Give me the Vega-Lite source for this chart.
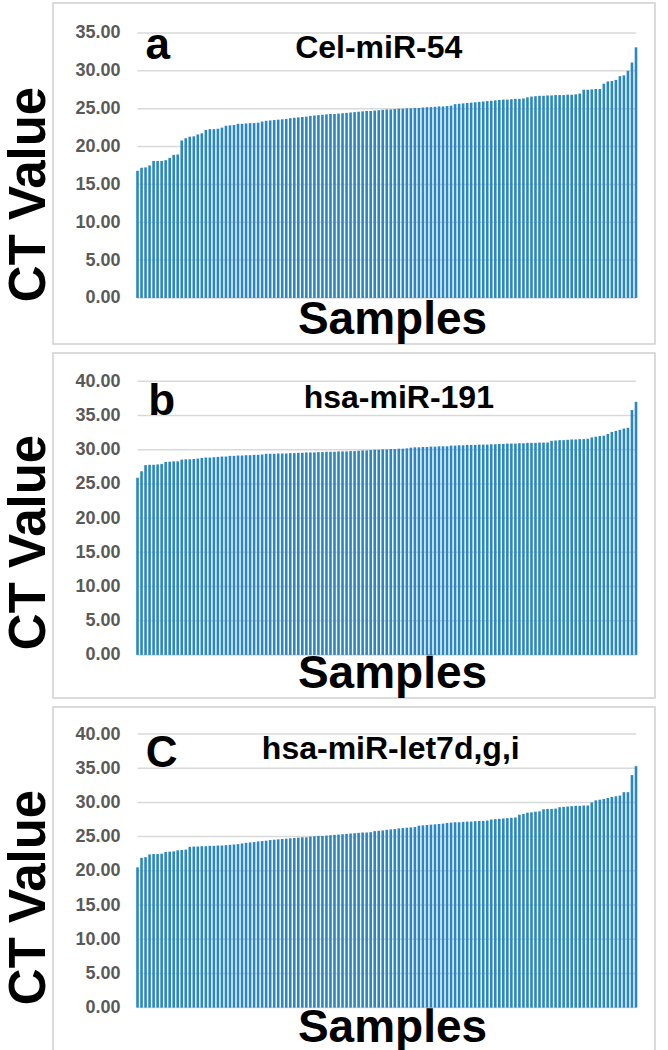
{
  "$schema": "https://vega.github.io/schema/vega-lite/v6.json",
  "padding": {"left": 2, "top": 2, "right": 0, "bottom": 0},
  "background": "white",
  "config": {
    "view": {"stroke": "#d0d0d0", "strokeWidth": 1.5},
    "font": "Liberation Sans",
    "concat": {"spacing": 7}
  },
  "datasets": {
    "a": [
      {"s":1,"ct":16.8},{"s":2,"ct":17.2},{"s":3,"ct":17.25},{"s":4,"ct":17.5},{"s":5,"ct":18.1},{"s":6,"ct":18.1},{"s":7,"ct":18.1},{"s":8,"ct":18.2},{"s":9,"ct":18.5},{"s":10,"ct":18.9},
      {"s":11,"ct":18.95},{"s":12,"ct":20.8},{"s":13,"ct":21.1},{"s":14,"ct":21.3},{"s":15,"ct":21.35},{"s":16,"ct":21.6},{"s":17,"ct":21.75},{"s":18,"ct":22.2},{"s":19,"ct":22.3},{"s":20,"ct":22.3},
      {"s":21,"ct":22.35},{"s":22,"ct":22.5},{"s":23,"ct":22.75},{"s":24,"ct":22.8},{"s":25,"ct":22.85},{"s":26,"ct":23.0},{"s":27,"ct":23.0},{"s":28,"ct":23.05},{"s":29,"ct":23.1},{"s":30,"ct":23.1},
      {"s":31,"ct":23.15},{"s":32,"ct":23.3},{"s":33,"ct":23.4},{"s":34,"ct":23.45},{"s":35,"ct":23.5},{"s":36,"ct":23.55},{"s":37,"ct":23.6},{"s":38,"ct":23.65},{"s":39,"ct":23.75},{"s":40,"ct":23.8},
      {"s":41,"ct":23.85},{"s":42,"ct":23.9},{"s":43,"ct":23.95},{"s":44,"ct":24.05},{"s":45,"ct":24.1},{"s":46,"ct":24.15},{"s":47,"ct":24.2},{"s":48,"ct":24.25},{"s":49,"ct":24.3},{"s":50,"ct":24.3},
      {"s":51,"ct":24.35},{"s":52,"ct":24.4},{"s":53,"ct":24.45},{"s":54,"ct":24.5},{"s":55,"ct":24.55},{"s":56,"ct":24.6},{"s":57,"ct":24.65},{"s":58,"ct":24.7},{"s":59,"ct":24.7},{"s":60,"ct":24.75},
      {"s":61,"ct":24.8},{"s":62,"ct":24.85},{"s":63,"ct":24.9},{"s":64,"ct":24.9},{"s":65,"ct":24.95},{"s":66,"ct":25.0},{"s":67,"ct":25.0},{"s":68,"ct":25.05},{"s":69,"ct":25.05},{"s":70,"ct":25.1},
      {"s":71,"ct":25.1},{"s":72,"ct":25.15},{"s":73,"ct":25.2},{"s":74,"ct":25.2},{"s":75,"ct":25.25},{"s":76,"ct":25.3},{"s":77,"ct":25.3},{"s":78,"ct":25.35},{"s":79,"ct":25.4},{"s":80,"ct":25.6},
      {"s":81,"ct":25.65},{"s":82,"ct":25.7},{"s":83,"ct":25.75},{"s":84,"ct":25.8},{"s":85,"ct":25.85},{"s":86,"ct":25.9},{"s":87,"ct":25.95},{"s":88,"ct":26.0},{"s":89,"ct":26.05},{"s":90,"ct":26.1},
      {"s":91,"ct":26.15},{"s":92,"ct":26.2},{"s":93,"ct":26.2},{"s":94,"ct":26.25},{"s":95,"ct":26.3},{"s":96,"ct":26.3},{"s":97,"ct":26.35},{"s":98,"ct":26.5},{"s":99,"ct":26.6},{"s":100,"ct":26.65},
      {"s":101,"ct":26.7},{"s":102,"ct":26.7},{"s":103,"ct":26.75},{"s":104,"ct":26.75},{"s":105,"ct":26.8},{"s":106,"ct":26.8},{"s":107,"ct":26.8},{"s":108,"ct":26.85},{"s":109,"ct":26.85},{"s":110,"ct":26.9},
      {"s":111,"ct":27.0},{"s":112,"ct":27.5},{"s":113,"ct":27.5},{"s":114,"ct":27.55},{"s":115,"ct":27.6},{"s":116,"ct":27.6},{"s":117,"ct":28.3},{"s":118,"ct":28.6},{"s":119,"ct":28.65},{"s":120,"ct":28.8},
      {"s":121,"ct":29.3},{"s":122,"ct":29.4},{"s":123,"ct":30.0},{"s":124,"ct":31.1},{"s":125,"ct":33.1}
    ],
    "b": [
      {"s":1,"ct":25.9},{"s":2,"ct":26.85},{"s":3,"ct":27.75},{"s":4,"ct":27.8},{"s":5,"ct":27.8},{"s":6,"ct":27.85},{"s":7,"ct":27.9},{"s":8,"ct":28.2},{"s":9,"ct":28.25},{"s":10,"ct":28.3},
      {"s":11,"ct":28.3},{"s":12,"ct":28.55},{"s":13,"ct":28.6},{"s":14,"ct":28.6},{"s":15,"ct":28.65},{"s":16,"ct":28.7},{"s":17,"ct":28.8},{"s":18,"ct":28.85},{"s":19,"ct":28.85},{"s":20,"ct":28.9},
      {"s":21,"ct":28.95},{"s":22,"ct":29.0},{"s":23,"ct":29.0},{"s":24,"ct":29.1},{"s":25,"ct":29.1},{"s":26,"ct":29.15},{"s":27,"ct":29.15},{"s":28,"ct":29.2},{"s":29,"ct":29.2},{"s":30,"ct":29.25},
      {"s":31,"ct":29.25},{"s":32,"ct":29.3},{"s":33,"ct":29.4},{"s":34,"ct":29.4},{"s":35,"ct":29.4},{"s":36,"ct":29.45},{"s":37,"ct":29.45},{"s":38,"ct":29.45},{"s":39,"ct":29.5},{"s":40,"ct":29.5},
      {"s":41,"ct":29.55},{"s":42,"ct":29.55},{"s":43,"ct":29.6},{"s":44,"ct":29.6},{"s":45,"ct":29.6},{"s":46,"ct":29.65},{"s":47,"ct":29.65},{"s":48,"ct":29.7},{"s":49,"ct":29.7},{"s":50,"ct":29.7},
      {"s":51,"ct":29.75},{"s":52,"ct":29.75},{"s":53,"ct":29.75},{"s":54,"ct":29.8},{"s":55,"ct":29.8},{"s":56,"ct":29.85},{"s":57,"ct":29.9},{"s":58,"ct":29.9},{"s":59,"ct":29.95},{"s":60,"ct":30.0},
      {"s":61,"ct":30.0},{"s":62,"ct":30.05},{"s":63,"ct":30.05},{"s":64,"ct":30.1},{"s":65,"ct":30.1},{"s":66,"ct":30.15},{"s":67,"ct":30.15},{"s":68,"ct":30.2},{"s":69,"ct":30.3},{"s":70,"ct":30.35},
      {"s":71,"ct":30.35},{"s":72,"ct":30.4},{"s":73,"ct":30.4},{"s":74,"ct":30.45},{"s":75,"ct":30.45},{"s":76,"ct":30.5},{"s":77,"ct":30.5},{"s":78,"ct":30.5},{"s":79,"ct":30.6},{"s":80,"ct":30.6},
      {"s":81,"ct":30.65},{"s":82,"ct":30.65},{"s":83,"ct":30.7},{"s":84,"ct":30.7},{"s":85,"ct":30.7},{"s":86,"ct":30.75},{"s":87,"ct":30.75},{"s":88,"ct":30.75},{"s":89,"ct":30.8},{"s":90,"ct":30.8},
      {"s":91,"ct":30.85},{"s":92,"ct":30.85},{"s":93,"ct":30.9},{"s":94,"ct":30.9},{"s":95,"ct":30.9},{"s":96,"ct":30.95},{"s":97,"ct":30.95},{"s":98,"ct":31.0},{"s":99,"ct":31.0},{"s":100,"ct":31.0},
      {"s":101,"ct":31.05},{"s":102,"ct":31.05},{"s":103,"ct":31.05},{"s":104,"ct":31.3},{"s":105,"ct":31.35},{"s":106,"ct":31.4},{"s":107,"ct":31.4},{"s":108,"ct":31.45},{"s":109,"ct":31.5},{"s":110,"ct":31.5},
      {"s":111,"ct":31.55},{"s":112,"ct":31.55},{"s":113,"ct":31.6},{"s":114,"ct":31.8},{"s":115,"ct":31.9},{"s":116,"ct":32.0},{"s":117,"ct":32.05},{"s":118,"ct":32.3},{"s":119,"ct":32.6},{"s":120,"ct":32.75},
      {"s":121,"ct":32.9},{"s":122,"ct":33.1},{"s":123,"ct":33.2},{"s":124,"ct":35.8},{"s":125,"ct":37.0}
    ],
    "c": [
      {"s":1,"ct":20.5},{"s":2,"ct":21.9},{"s":3,"ct":22.0},{"s":4,"ct":22.4},{"s":5,"ct":22.45},{"s":6,"ct":22.45},{"s":7,"ct":22.5},{"s":8,"ct":22.75},{"s":9,"ct":22.8},{"s":10,"ct":22.85},
      {"s":11,"ct":23.0},{"s":12,"ct":23.05},{"s":13,"ct":23.1},{"s":14,"ct":23.5},{"s":15,"ct":23.55},{"s":16,"ct":23.55},{"s":17,"ct":23.6},{"s":18,"ct":23.6},{"s":19,"ct":23.65},{"s":20,"ct":23.65},
      {"s":21,"ct":23.7},{"s":22,"ct":23.7},{"s":23,"ct":23.75},{"s":24,"ct":23.8},{"s":25,"ct":23.85},{"s":26,"ct":23.9},{"s":27,"ct":24.0},{"s":28,"ct":24.1},{"s":29,"ct":24.15},{"s":30,"ct":24.2},
      {"s":31,"ct":24.3},{"s":32,"ct":24.35},{"s":33,"ct":24.4},{"s":34,"ct":24.5},{"s":35,"ct":24.55},{"s":36,"ct":24.6},{"s":37,"ct":24.65},{"s":38,"ct":24.7},{"s":39,"ct":24.75},{"s":40,"ct":24.8},
      {"s":41,"ct":24.85},{"s":42,"ct":24.9},{"s":43,"ct":24.9},{"s":44,"ct":25.0},{"s":45,"ct":25.05},{"s":46,"ct":25.1},{"s":47,"ct":25.1},{"s":48,"ct":25.15},{"s":49,"ct":25.2},{"s":50,"ct":25.25},
      {"s":51,"ct":25.3},{"s":52,"ct":25.35},{"s":53,"ct":25.4},{"s":54,"ct":25.45},{"s":55,"ct":25.5},{"s":56,"ct":25.55},{"s":57,"ct":25.6},{"s":58,"ct":25.6},{"s":59,"ct":25.65},{"s":60,"ct":25.8},
      {"s":61,"ct":25.85},{"s":62,"ct":25.9},{"s":63,"ct":26.0},{"s":64,"ct":26.05},{"s":65,"ct":26.1},{"s":66,"ct":26.2},{"s":67,"ct":26.25},{"s":68,"ct":26.3},{"s":69,"ct":26.35},{"s":70,"ct":26.4},
      {"s":71,"ct":26.6},{"s":72,"ct":26.65},{"s":73,"ct":26.7},{"s":74,"ct":26.75},{"s":75,"ct":26.8},{"s":76,"ct":26.85},{"s":77,"ct":26.9},{"s":78,"ct":27.0},{"s":79,"ct":27.05},{"s":80,"ct":27.1},
      {"s":81,"ct":27.1},{"s":82,"ct":27.15},{"s":83,"ct":27.2},{"s":84,"ct":27.2},{"s":85,"ct":27.25},{"s":86,"ct":27.3},{"s":87,"ct":27.3},{"s":88,"ct":27.35},{"s":89,"ct":27.5},{"s":90,"ct":27.55},
      {"s":91,"ct":27.6},{"s":92,"ct":27.65},{"s":93,"ct":27.7},{"s":94,"ct":27.75},{"s":95,"ct":27.8},{"s":96,"ct":28.2},{"s":97,"ct":28.3},{"s":98,"ct":28.5},{"s":99,"ct":28.55},{"s":100,"ct":28.65},
      {"s":101,"ct":28.7},{"s":102,"ct":29.0},{"s":103,"ct":29.05},{"s":104,"ct":29.05},{"s":105,"ct":29.1},{"s":106,"ct":29.3},{"s":107,"ct":29.35},{"s":108,"ct":29.4},{"s":109,"ct":29.45},{"s":110,"ct":29.5},
      {"s":111,"ct":29.5},{"s":112,"ct":29.55},{"s":113,"ct":29.55},{"s":114,"ct":30.0},{"s":115,"ct":30.3},{"s":116,"ct":30.4},{"s":117,"ct":30.5},{"s":118,"ct":30.65},{"s":119,"ct":30.8},{"s":120,"ct":30.9},
      {"s":121,"ct":31.0},{"s":122,"ct":31.5},{"s":123,"ct":31.5},{"s":124,"ct":34.0},{"s":125,"ct":35.3}
    ],
    "grid35": [{"ct":0},{"ct":5},{"ct":10},{"ct":15},{"ct":20},{"ct":25},{"ct":30},{"ct":35}],
    "grid40": [{"ct":0},{"ct":5},{"ct":10},{"ct":15},{"ct":20},{"ct":25},{"ct":30},{"ct":35},{"ct":40}]
  },
  "vconcat": [
    {
      "width": 602, "height": 341,
      "data": {"name": "a"},
      "encoding": {
        "x": {"field": "s", "type": "ordinal",
          "scale": {"type": "band", "paddingInner": 0.35, "paddingOuter": 0.2, "range": [82.4, 585.1]},
          "axis": {"title": "Samples", "labels": false, "ticks": false, "domain": false, "grid": false,
            "titleFont": "Liberation Sans", "titleFontSize": 46, "titleFontWeight": "bold", "titleColor": "#000000",
            "titleX": 339, "titleY": -11, "titleBaseline": "alphabetic", "titleAlign": "center"}},
        "y": {"field": "ct", "type": "quantitative",
          "scale": {"domain": [-6.08, 38.96], "nice": false, "zero": false},
          "axis": {"title": "CT Value", "values": [0,5,10,15,20,25,30,35], "format": ".2f", "grid": false, "domain": false, "ticks": false,
            "offset": -75, "labelPadding": 8, "labelFont": "Liberation Sans", "labelFontWeight": "bold", "labelFontSize": 18, "labelColor": "#595959",
            "titleFont": "Liberation Sans", "titleFontWeight": "bold", "titleFontSize": 51, "titleColor": "#000000",
            "titleX": -73, "titleY": 191, "titleAngle": -90, "titleBaseline": "bottom", "titleAlign": "center"}}
      },
      "layer": [
        {"data": {"name": "grid35"}, "mark": {"type": "rule", "color": "#d9d9d9", "strokeWidth": 1.5},
          "encoding": {"x": {"datum": 1, "type": "ordinal"}, "x2": {"datum": 125}}},
        {"mark": {"type": "bar", "color": "#2b87c3"}},
        {"transform": [{"filter": "datum.s == 6"}],
          "mark": {"type": "text", "font": "Liberation Sans", "fontWeight": "bold", "fontSize": 44, "align": "center", "baseline": "alphabetic", "color": "#000000"},
          "encoding": {"y": {"datum": 31.6, "type": "quantitative"}, "text": {"value": "a"}}},
        {"transform": [{"filter": "datum.s == 61"}],
          "mark": {"type": "text", "font": "Liberation Sans", "fontWeight": "bold", "fontSize": 32, "align": "center", "baseline": "alphabetic", "color": "#000000"},
          "encoding": {"y": {"datum": 31.7, "type": "quantitative"}, "text": {"value": "Cel-miR-54"}}}
      ]
    },
    {
      "width": 602, "height": 345,
      "data": {"name": "b"},
      "encoding": {
        "x": {"field": "s", "type": "ordinal",
          "scale": {"type": "band", "paddingInner": 0.35, "paddingOuter": 0.2, "range": [82.4, 585.1]},
          "axis": {"title": "Samples", "labels": false, "ticks": false, "domain": false, "grid": false,
            "titleFont": "Liberation Sans", "titleFontSize": 46, "titleFontWeight": "bold", "titleColor": "#000000",
            "titleX": 339, "titleY": -11, "titleBaseline": "alphabetic", "titleAlign": "center"}},
        "y": {"field": "ct", "type": "quantitative",
          "scale": {"domain": [-6.3, 44.14], "nice": false, "zero": false},
          "axis": {"title": "CT Value", "values": [0,5,10,15,20,25,30,35,40], "format": ".2f", "grid": false, "domain": false, "ticks": false,
            "offset": -75, "labelPadding": 8, "labelFont": "Liberation Sans", "labelFontWeight": "bold", "labelFontSize": 18, "labelColor": "#595959",
            "titleFont": "Liberation Sans", "titleFontWeight": "bold", "titleFontSize": 51, "titleColor": "#000000",
            "titleX": -73, "titleY": 189, "titleAngle": -90, "titleBaseline": "bottom", "titleAlign": "center"}}
      },
      "layer": [
        {"data": {"name": "grid40"}, "mark": {"type": "rule", "color": "#d9d9d9", "strokeWidth": 1.5},
          "encoding": {"x": {"datum": 1, "type": "ordinal"}, "x2": {"datum": 125}}},
        {"mark": {"type": "bar", "color": "#2b87c3"}},
        {"transform": [{"filter": "datum.s == 7"}],
          "mark": {"type": "text", "font": "Liberation Sans", "fontWeight": "bold", "fontSize": 44, "align": "center", "baseline": "alphabetic", "color": "#000000"},
          "encoding": {"y": {"datum": 35.1, "type": "quantitative"}, "text": {"value": "b"}}},
        {"transform": [{"filter": "datum.s == 66"}],
          "mark": {"type": "text", "font": "Liberation Sans", "fontWeight": "bold", "fontSize": 32, "align": "center", "baseline": "alphabetic", "color": "#000000"},
          "encoding": {"y": {"datum": 36.1, "type": "quantitative"}, "text": {"value": "hsa-miR-191"}}}
      ]
    },
    {
      "width": 602, "height": 345,
      "data": {"name": "c"},
      "encoding": {
        "x": {"field": "s", "type": "ordinal",
          "scale": {"type": "band", "paddingInner": 0.35, "paddingOuter": 0.2, "range": [82.4, 585.1]},
          "axis": {"title": "Samples", "labels": false, "ticks": false, "domain": false, "grid": false,
            "titleFont": "Liberation Sans", "titleFontSize": 46, "titleFontWeight": "bold", "titleColor": "#000000",
            "titleX": 339, "titleY": -11, "titleBaseline": "alphabetic", "titleAlign": "center"}},
        "y": {"field": "ct", "type": "quantitative",
          "scale": {"domain": [-6.49, 43.95], "nice": false, "zero": false},
          "axis": {"title": "CT Value", "values": [0,5,10,15,20,25,30,35,40], "format": ".2f", "grid": false, "domain": false, "ticks": false,
            "offset": -75, "labelPadding": 8, "labelFont": "Liberation Sans", "labelFontWeight": "bold", "labelFontSize": 18, "labelColor": "#595959",
            "titleFont": "Liberation Sans", "titleFontWeight": "bold", "titleFontSize": 51, "titleColor": "#000000",
            "titleX": -73, "titleY": 190, "titleAngle": -90, "titleBaseline": "bottom", "titleAlign": "center"}}
      },
      "layer": [
        {"data": {"name": "grid40"}, "mark": {"type": "rule", "color": "#d9d9d9", "strokeWidth": 1.5},
          "encoding": {"x": {"datum": 1, "type": "ordinal"}, "x2": {"datum": 125}}},
        {"mark": {"type": "bar", "color": "#2b87c3"}},
        {"transform": [{"filter": "datum.s == 7"}],
          "mark": {"type": "text", "font": "Liberation Sans", "fontWeight": "bold", "fontSize": 44, "align": "center", "baseline": "alphabetic", "color": "#000000"},
          "encoding": {"y": {"datum": 35.2, "type": "quantitative"}, "text": {"value": "C"}}},
        {"transform": [{"filter": "datum.s == 64"}],
          "mark": {"type": "text", "font": "Liberation Sans", "fontWeight": "bold", "fontSize": 32, "align": "center", "baseline": "alphabetic", "color": "#000000"},
          "encoding": {"y": {"datum": 36.3, "type": "quantitative"}, "text": {"value": "hsa-miR-let7d,g,i"}}}
      ]
    }
  ]
}
